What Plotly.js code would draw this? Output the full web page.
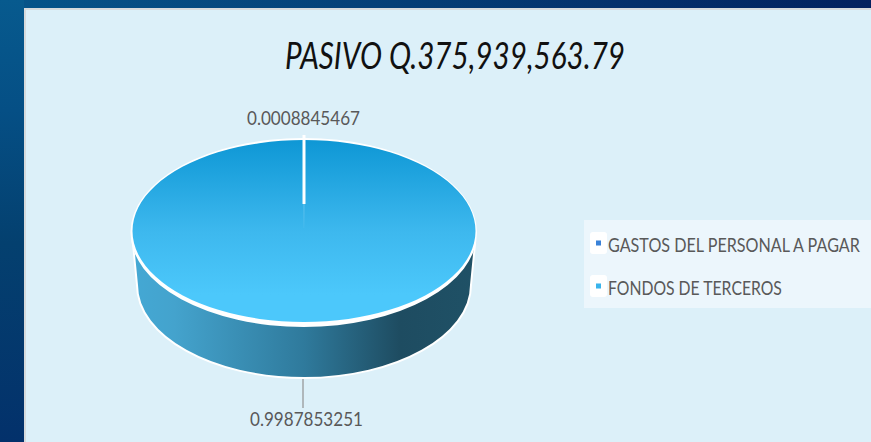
<!DOCTYPE html>
<html><head><meta charset="utf-8">
<script src="https://cdn.plot.ly/plotly-3.0.1.min.js"></script>
<style>
html,body{margin:0;padding:0;width:871px;height:442px;overflow:hidden;
 background:linear-gradient(90deg,#06558a 0%,#053f77 45%,#03215f 100%);}
#bgv{position:absolute;left:0;top:0;width:24px;height:442px;background:linear-gradient(180deg,#075a8e 0%,#054f85 25%,#04406f 55%,#03316b 100%);}
#panel{position:absolute;left:24px;top:8px;width:847px;height:434px;background:#dcf0f9;box-sizing:border-box;border-left:2px solid #d6dadc;border-top:2px solid #d6dadc;}
#chart{position:absolute;left:0;top:0;width:871px;height:442px;}
</style></head><body>
<div id="bgv"></div><div id="panel"></div><div id="chart"></div>
<script>
const chartTitle = 'PASIVO Q.375,939,563.79';
const categories = ['GASTOS DEL PERSONAL A PAGAR', 'FONDOS DE TERCEROS'];
const values = [0.0008845467, 0.9987853251];
const legendColors = ['#3a82d8', '#3ab4ec'];

const W = 871, H = 442;
const X = p => p / W, Y = p => 1 - p / H;
const cx = 304, cy = 231, rx = 171.5, ry = 91;
const total = values[0] + values[1];
const fontName = 'Lato,"Liberation Sans",sans-serif';

function pt(x, y) { return X(x) + ',' + Y(y); }
const sidePath = 'M' + pt(133,244) + ' L' + pt(137,285) +
  ' C' + pt(137,336) + ' ' + pt(212,378) + ' ' + pt(304,378) +
  ' C' + pt(396,378) + ' ' + pt(471,336) + ' ' + pt(471,285) +
  ' L' + pt(475,244) + ' Z';

const data = [{
  type: 'pie', labels: categories, values: values, sort: false, direction: 'clockwise',
  rotation: -values[0] / total * 180, textinfo: 'none', hoverinfo: 'label+value',
  marker: {colors: legendColors, line: {width: 0}},
  domain: {x: [X(cx - rx), X(cx + rx)], y: [Y(cy + rx), Y(cy - rx)]}
}];

const layout = {
  width: W, height: H, margin: {l:0, r:0, t:0, b:0, autoexpand:false},
  paper_bgcolor: 'rgba(0,0,0,0)', plot_bgcolor: 'rgba(0,0,0,0)',
  title: {text: chartTitle, x: 455/W, xanchor: 'center', y: Y(56), yanchor: 'middle',
    font: {family: fontName, size: 36, color: '#111111', style: 'italic'}},
  showlegend: true,
  legend: {x: X(584), xanchor: 'left', y: Y(220), yanchor: 'top', bgcolor: 'rgba(0,0,0,0)',
    borderwidth: 0, font: {family: fontName, size: 19.5, color: '#595959'}, itemclick: false, itemdoubleclick: false},
  shapes: [
    {type:'rect', xref:'paper', yref:'paper', x0:X(584), x1:1, y0:Y(220), y1:Y(308), fillcolor:'#ecf6fc', line:{width:0}, layer:'below'},
    {type:'path', xref:'paper', yref:'paper', path: sidePath, fillcolor:'#2f7a9c', line:{color:'#ffffff', width:2}, layer:'below'},
    {type:'circle', xref:'paper', yref:'paper', x0:X(130.5), x1:X(477), y0:Y(327), y1:Y(138), fillcolor:'#ffffff', line:{width:0}, layer:'below'},
    {type:'line', xref:'paper', yref:'paper', x0:X(304), x1:X(304), y0:Y(135), y1:Y(204), line:{color:'#ffffff', width:3}, layer:'above'},
    {type:'line', xref:'paper', yref:'paper', x0:X(303), x1:X(303), y0:Y(379), y1:Y(408), line:{color:'#a0a4a6', width:1.5}, layer:'above'}
  ],
  annotations: [
    {xref:'paper', yref:'paper', x:X(303.5), y:Y(118), xanchor:'center', yanchor:'middle', showarrow:false,
      text:String(values[0]), font:{family:fontName, size:19.5, color:'#595959'}},
    {xref:'paper', yref:'paper', x:X(306.5), y:Y(418), xanchor:'center', yanchor:'middle', showarrow:false,
      text:String(values[1]), font:{family:fontName, size:19.5, color:'#595959'}}
  ]
};

function fit(el, len) {
  el.setAttribute('textLength', len);
  el.setAttribute('lengthAdjust', 'spacingAndGlyphs');
}

Plotly.newPlot('chart', data, layout, {displayModeBar: false}).then(function (gd) {
  const NS = 'http://www.w3.org/2000/svg';
  const svg = gd.querySelector('svg.main-svg');
  const defs = svg.querySelector('defs');
  function grad(id, x2, y2, stops) {
    const g = document.createElementNS(NS, 'linearGradient');
    g.setAttribute('id', id); g.setAttribute('x1', 0); g.setAttribute('y1', 0);
    g.setAttribute('x2', x2); g.setAttribute('y2', y2);
    stops.forEach(function (s) {
      const st = document.createElementNS(NS, 'stop');
      st.setAttribute('offset', s[0]); st.setAttribute('stop-color', s[1]); g.appendChild(st);
    });
    defs.appendChild(g);
  }
  grad('topGrad', 0, 1, [[0,'#0e97d5'],[0.5,'#3db8ee'],[0.85,'#4cc8fb'],[1,'#4cc8fb']]);
  grad('sideGrad', 1, 0, [[0,'#44a8d4'],[0.12,'#44a3cd'],[0.5,'#2f7a9c'],[0.78,'#1e4c61'],[1,'#1f5166']]);

  // squash the round pie to the ellipse of the reference
  const k = ry / rx;
  const pl = gd.querySelector('.pielayer');
  pl.setAttribute('transform', 'matrix(1 0 0 ' + k + ' 0 ' + (cy * (1 - k)) + ')');
  const slices = pl.querySelectorAll('.slice path.surface');
  slices.forEach(function (p, i) { p.style.fill = i === 1 ? 'url(#topGrad)' : '#35b0e8'; });

  const side = gd.querySelectorAll('.layer-below .shapelayer path')[1];
  if (side) side.style.fill = 'url(#sideGrad)';

  // condensed text, as in the reference
  const title = gd.querySelector('.gtitle');
  if (title) fit(title, 340);
  gd.querySelectorAll('.annotation-text').forEach(function (a) { fit(a, 113); });

  // legend layout
  const legend = gd.querySelector('.legend');
  const scroll = legend.querySelector('.scrollbox');
  if (scroll) { scroll.removeAttribute('clip-path'); scroll.style.clipPath = 'none'; }
  const rows = [24, 67], lens = [252, 174];
  legend.querySelectorAll('.traces').forEach(function (t, i) {
    t.setAttribute('transform', 'translate(0,' + rows[i] + ')');
    const txt = t.querySelector('.legendtext');
    txt.setAttribute('x', 0);
    const sx = lens[i] / txt.getComputedTextLength();
    txt.setAttribute('transform', 'translate(24,0) scale(' + sx + ',1)');
    const pts = t.querySelector('.legendpoints');
    pts.setAttribute('transform', 'translate(14.5,0)');
    const path = pts.querySelector('path');
    path.setAttribute('transform', 'translate(0,-1) scale(0.42)');
    path.style.strokeWidth = 0;
    const r = document.createElementNS(NS, 'rect');
    r.setAttribute('x', -8.5); r.setAttribute('y', -12); r.setAttribute('width', 17); r.setAttribute('height', 22);
    r.setAttribute('rx', 3); r.setAttribute('fill', '#ffffff');
    path.parentNode.insertBefore(r, path);
  });
});
</script></body></html>
